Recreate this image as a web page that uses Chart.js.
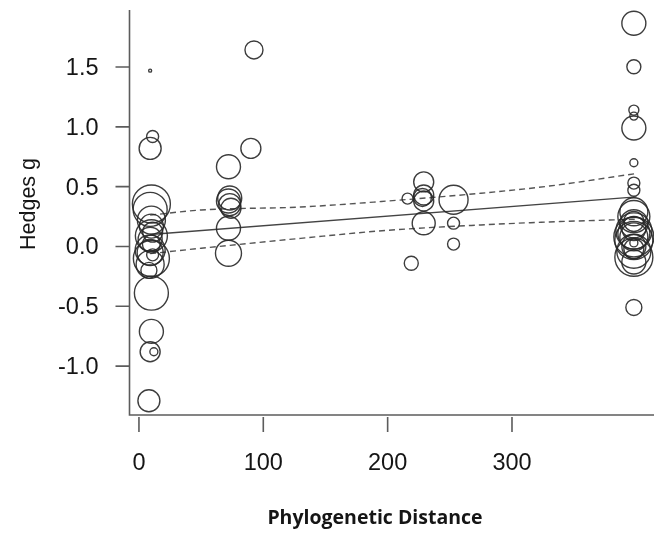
<!DOCTYPE html>
<html><head><meta charset="utf-8">
<script src="https://cdn.jsdelivr.net/npm/chart.js@4.4.1/dist/chart.umd.min.js"></script>
<style>html,body{margin:0;padding:0;background:#fff;}#wrap{width:654px;height:533px;}</style>
</head><body><div id="wrap"><canvas id="c" width="654" height="533"></canvas></div>
<script>
// ---- data ----
const xTicks = [0, 100, 200, 300];
const xTickLabels = ['0', '100', '200', '300'];
const yTicks = [-1.0, -0.5, 0.0, 0.5, 1.0, 1.5];
const yTickLabels = ['-1.0', '-0.5', '0.0', '0.5', '1.0', '1.5'];
const xTitle = 'Phylogenetic Distance';
const yTitle = 'Hedges g';

// study effects: phylogenetic distance, Hedges g, study weight (drawn as circle radius)
const distance = [
  9, 11, 9, 10, 9, 10, 10, 11, 9, 10, 9, 10, 9, 8, 11, 10, 10, 9, 12, 8, 10, 9,
  72, 73, 72, 73, 74, 72, 72, 90, 92.5,
  216, 229, 229, 228, 229, 229, 253, 253, 253, 219,
  398, 398, 398, 398, 398, 398, 398, 398, 398, 398, 398, 398, 398, 398, 398, 398, 398, 398, 398, 398, 398,
  398, 398, 398, 398
];
const hedgesG = [
  1.47, 0.92, 0.82, 0.355, 0.31, 0.22, 0.17, 0.12, 0.06, 0.02, -0.03, -0.10, -0.15, -0.20, -0.07, -0.39, -0.71, -0.88, -0.88, -1.29, 0.09, -0.05,
  0.667, 0.405, 0.38, 0.35, 0.32, 0.152, -0.057, 0.82, 1.643,
  0.40, 0.54, 0.43, 0.41, 0.38, 0.194, 0.39, 0.195, 0.02, -0.14,
  1.866, 1.503, 1.14, 1.09, 0.99, 0.70, 0.53, 0.47, 0.29, 0.25, 0.19, 0.15, 0.11, 0.05, 0.0, -0.04, -0.09, -0.13, 0.03, -0.51, 0.08,
  0.21, 0.08, -0.02, 0.13
];
const weight = [
  1.5, 6, 11, 19, 17, 14, 12, 10, 12, 9, 15, 18, 14, 8, 6, 17, 12, 10, 4, 11, 16, 13,
  12, 12, 12, 11, 10, 12, 13, 10, 9,
  5.5, 10, 10, 9, 10, 11.5, 14.5, 6, 6, 7,
  12, 7, 5, 4, 12, 4, 6, 6, 14, 16, 14, 12, 16, 19, 12, 17, 19, 12, 4, 8, 20,
  10, 14, 10, 18
];

// meta-regression line and its confidence band
const fitX = [9, 400];
const fitY = [0.10, 0.415];
const bandX = [9, 50, 130, 200, 275, 330, 400];
const upperCI = [0.262, 0.305, 0.33, 0.38, 0.445, 0.505, 0.61];
const lowerCI = [-0.06, -0.015, 0.068, 0.135, 0.18, 0.205, 0.228];

// ---- chart ----
const pts = distance.map((d, i) => ({x: d, y: hedgesG[i], r: weight[i]}));
const xy = (xs, ys) => xs.map((v, i) => ({x: v, y: ys[i]}));

const rAxes = {
  id: 'rAxes',
  afterDraw(chart) {
    const {ctx, chartArea: a, scales: {x, y}} = chart;
    ctx.save();
    ctx.strokeStyle = '#5c5c5c';
    ctx.lineWidth = 1.6;
    ctx.beginPath();
    ctx.moveTo(a.left, a.top); ctx.lineTo(a.left, a.bottom); ctx.lineTo(a.right, a.bottom);
    ctx.stroke();
    ctx.beginPath();
    yTicks.forEach(v => { const p = y.getPixelForValue(v); ctx.moveTo(a.left - 14, p); ctx.lineTo(a.left, p); });
    xTicks.forEach(v => { const p = x.getPixelForValue(v); ctx.moveTo(p, a.bottom + 2); ctx.lineTo(p, a.bottom + 17); });
    ctx.stroke();
    ctx.fillStyle = '#151515';
    ctx.font = '23.5px "Liberation Sans", Arial, sans-serif';
    ctx.textAlign = 'right'; ctx.textBaseline = 'middle';
    yTicks.forEach((v, i) => ctx.fillText(yTickLabels[i], 98.5, y.getPixelForValue(v) + 1.5));
    ctx.textAlign = 'center';
    xTicks.forEach((v, i) => ctx.fillText(xTickLabels[i], x.getPixelForValue(v), 464));
    ctx.font = 'bold 19.5px "Open Sans", Lato, sans-serif';
    ctx.fillText(xTitle, 375, 518);
    ctx.save();
    ctx.translate(29, 204);
    ctx.rotate(-Math.PI / 2);
    ctx.font = '21.5px "Liberation Sans", Arial, sans-serif';
    ctx.fillText(yTitle, 0, 0);
    ctx.restore();
    ctx.restore();
  }
};

new Chart(document.getElementById('c'), {
  data: {
    datasets: [
      {type: 'bubble', data: pts, backgroundColor: 'rgba(0,0,0,0)', borderColor: 'rgba(40,40,40,0.9)', borderWidth: 1.4, hoverBorderWidth: 1.4},
      {type: 'line', data: xy(fitX, fitY), borderColor: '#444', borderWidth: 1.4, pointRadius: 0, fill: false},
      {type: 'line', data: xy(bandX, upperCI), borderColor: '#555', borderWidth: 1.4, borderDash: [6, 4], pointRadius: 0, fill: false, cubicInterpolationMode: 'monotone'},
      {type: 'line', data: xy(bandX, lowerCI), borderColor: '#555', borderWidth: 1.4, borderDash: [6, 4], pointRadius: 0, fill: false, cubicInterpolationMode: 'monotone'}
    ]
  },
  options: {
    responsive: false,
    devicePixelRatio: 1,
    animation: false,
    layout: {autoPadding: false, padding: {left: 129.5, top: 10, right: 0, bottom: 118}},
    plugins: {legend: {display: false}, tooltip: {enabled: false}},
    scales: {
      x: {type: 'linear', display: false, min: -7.6, max: 414.2},
      y: {type: 'linear', display: false, min: -1.409, max: 1.977}
    }
  },
  plugins: [rAxes]
});
</script>
</body></html>
